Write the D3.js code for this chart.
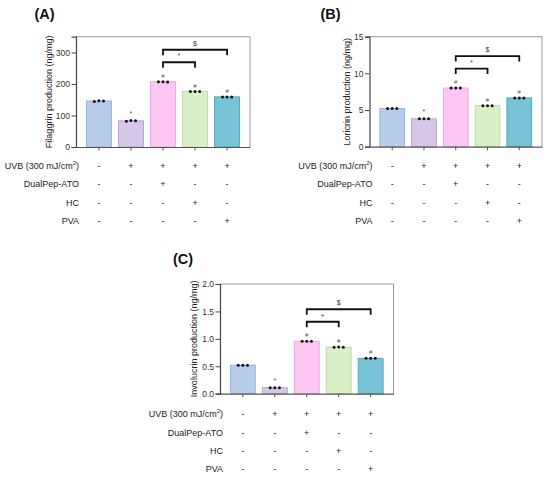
<!DOCTYPE html>
<html>
<head>
<meta charset="utf-8">
<script src="https://cdn.jsdelivr.net/npm/d3@7"></script>
<style>
  html, body { margin: 0; padding: 0; background: #fff; }
  svg { display: block; font-family: "Liberation Sans", Arial, sans-serif; }
</style>
</head>
<body>
<svg id="chart" width="550" height="477"></svg>
<script>
// ---------- data ----------
const groups = ["Control", "UVB", "UVB+DualPep-ATO", "UVB+HC", "UVB+PVA"];
const rowLabels = ["UVB (300 mJ/cm2)", "DualPep-ATO", "HC", "PVA"];
const rowUVB      = ["-", "+", "+", "+", "+"];
const rowDualPep  = ["-", "-", "+", "-", "-"];
const rowHC       = ["-", "-", "-", "+", "-"];
const rowPVA      = ["-", "-", "-", "-", "+"];

const filaggrinMeans = [146, 83, 207, 176, 159];
const filaggrinReps  = [[144, 147, 146], [82, 84, 83], [207, 207, 206], [176, 176, 176], [159, 159, 159]];
const filaggrinTicks = [0, 100, 200, 300];

const loricrinMeans = [5.2, 3.8, 8.0, 5.6, 6.65];
const loricrinReps  = [[5.2, 5.2, 5.2], [3.8, 3.8, 3.8], [8.0, 8.0, 8.0], [5.6, 5.6, 5.6], [6.65, 6.65, 6.65]];
const loricrinTicks = [0, 5, 10, 15];

const involucrinMeans = [0.52, 0.11, 0.956, 0.845, 0.645];
const involucrinReps  = [[0.52, 0.52, 0.52], [0.11, 0.11, 0.11], [0.956, 0.956, 0.956], [0.845, 0.85, 0.845], [0.645, 0.645, 0.645]];
const involucrinTicks = [0, 0.5, 1.0, 1.5, 2.0];

const barMarks = ["", "*", "#", "#", "#"];
// brackets: [fromIndex, toIndex, label]
const bracketsAB = [[2, 3, "*"], [2, 4, "$"]];
const bracketsC  = [[2, 3, "+"], [2, 4, "$"]];

const fills   = ["#b8cde9", "#d6c6e8", "#fcc8f3", "#daefc7", "#79c3d7"];
const strokes = ["#95b3da", "#b9a3d4", "#efa6e2", "#bbdda3", "#50a8c0"];

// ---------- drawing ----------
const svg = d3.select("#chart");
const rows = [rowUVB, rowDualPep, rowHC, rowPVA];

function panel(cfg) {
  const g = svg.append("g");
  const x = d3.scaleBand().domain(groups).range([cfg.left, cfg.right])
    .paddingInner(0.19).paddingOuter(0.31);
  const y = d3.scaleLinear().domain([0, cfg.max]).range([cfg.bottom, cfg.top]);

  // frame (top + right light gray)
  g.append("path")
    .attr("d", `M${cfg.left},${cfg.top}H${cfg.right}V${cfg.bottom}`)
    .attr("fill", "none").attr("stroke", "#9a9a9a").attr("stroke-width", 1);

  // bars
  g.selectAll("rect.bar").data(cfg.means).join("rect")
    .attr("x", (d, i) => x(groups[i]) + 0.5)
    .attr("width", x.bandwidth() - 1)
    .attr("y", d => y(d))
    .attr("height", d => y(0) - y(d))
    .attr("fill", (d, i) => fills[i])
    .attr("stroke", (d, i) => strokes[i])
    .attr("stroke-width", 1);

  // replicate dots
  cfg.reps.forEach((r, i) => {
    const cx = x(groups[i]) + x.bandwidth() / 2;
    g.selectAll(null).data(r).join("circle")
      .attr("cx", (d, j) => cx + (j - 1) * 4.6)
      .attr("cy", d => y(d))
      .attr("r", 1.5)
      .attr("fill", "#111");
  });

  // y axis
  const yAxis = d3.axisLeft(y).tickValues(cfg.ticks).tickFormat(cfg.fmt)
    .tickSize(4.5).tickPadding(1.5);
  const ya = g.append("g").attr("transform", `translate(${cfg.left},0)`).call(yAxis);
  ya.select(".domain").attr("stroke", "#444").attr("stroke-width", 1.2);
  ya.selectAll(".tick line").attr("stroke", "#444").attr("stroke-width", 1);
  ya.selectAll(".tick text").attr("fill", "#333").style("font-size", "8.5px")
    .style("font-family", "'Liberation Sans', Arial, sans-serif");

  // x axis (ticks only, no labels)
  const xAxis = d3.axisBottom(x).tickSize(3.5).tickFormat("").tickSizeOuter(0);
  const xa = g.append("g").attr("transform", `translate(0,${cfg.bottom})`).call(xAxis);
  xa.select(".domain").attr("stroke", "#555").attr("stroke-width", 1.2);
  xa.selectAll(".tick line").attr("stroke", "#555").attr("stroke-width", 1);

  // y title
  g.append("text")
    .attr("transform", `translate(${cfg.left + cfg.titleDx},${(cfg.top + cfg.bottom) / 2}) rotate(-90)`)
    .attr("text-anchor", "middle").attr("dominant-baseline", "central")
    .attr("fill", "#222").style("font-size", "9px")
    .text(cfg.ytitle);

  // bar marks (*, #)
  cfg.means.forEach((m, i) => {
    if (!barMarks[i]) return;
    const top = y(d3.max(cfg.reps[i]));
    g.append("text")
      .attr("x", x(groups[i]) + x.bandwidth() / 2)
      .attr("y", top - (barMarks[i] === "*" ? 5 : 4))
      .attr("text-anchor", "middle").attr("fill", "#555")
      .style("font-size", barMarks[i] === "*" ? "7px" : "6px")
      .text(barMarks[i]);
  });

  // brackets
  const base = y(cfg.means[2]);
  const levels = [19.5, 32];
  cfg.brackets.forEach((b, k) => {
    const x1 = x(groups[b[0]]) + x.bandwidth() / 2;
    const x2 = x(groups[b[1]]) + x.bandwidth() / 2;
    const yy = base - levels[k];
    g.append("path")
      .attr("d", `M${x1},${yy + 5.5}V${yy}H${x2}V${yy + 5.5}`)
      .attr("fill", "none").attr("stroke", "#111").attr("stroke-width", 1.8);
    g.append("text")
      .attr("x", (x1 + x2) / 2).attr("y", yy - 4)
      .attr("text-anchor", "middle").attr("fill", "#333")
      .style("font-size", b[2] === "$" ? "7px" : "6.5px")
      .text(b[2]);
  });

  // treatment rows
  rowLabels.forEach((lab, r) => {
    const ry = cfg.bottom + cfg.rowStart + r * 18.4;
    const t = g.append("text")
      .attr("x", cfg.left + 3).attr("y", ry)
      .attr("text-anchor", "end").attr("dominant-baseline", "central")
      .attr("fill", "#222").style("font-size", "9px");
    if (r === 0) {
      t.append("tspan").text("UVB (300 mJ/cm");
      t.append("tspan").attr("dy", -3).style("font-size", "6px").text("2");
      t.append("tspan").attr("dy", 3).text(")");
    } else {
      t.text(lab);
    }
    g.selectAll(null).data(rows[r]).join("text")
      .attr("x", (d, i) => x(groups[i]) + x.bandwidth() / 2)
      .attr("y", ry)
      .attr("text-anchor", "middle").attr("dominant-baseline", "central")
      .attr("fill", "#222").style("font-size", "9px")
      .text(d => d);
  });

  // panel label
  svg.append("text")
    .attr("x", cfg.labelX).attr("y", cfg.labelY)
    .attr("font-weight", "bold").attr("fill", "#111")
    .style("font-size", "14.5px")
    .text(cfg.label);
}

panel({
  label: "(A)", labelX: 34.5, labelY: 18.5,
  left: 76, right: 250, top: 36.7, bottom: 147,
  max: 350, ticks: filaggrinTicks, fmt: d3.format("d"),
  means: filaggrinMeans, reps: filaggrinReps,
  ytitle: "Filaggrin production (ng/mg)", titleDx: -27.5,
  brackets: bracketsAB, rowStart: 18.7
});
panel({
  label: "(B)", labelX: 320.5, labelY: 18.5,
  left: 369.5, right: 542, top: 36.7, bottom: 146.7,
  max: 15, ticks: loricrinTicks, fmt: d3.format("d"),
  means: loricrinMeans, reps: loricrinReps,
  ytitle: "Loricrin production (ng/mg)", titleDx: -23,
  brackets: bracketsAB, rowStart: 19
});
panel({
  label: "(C)", labelX: 173, labelY: 263.5,
  left: 220, right: 393.5, top: 284, bottom: 393.7,
  max: 2.0, ticks: involucrinTicks, fmt: d3.format(".1f"),
  means: involucrinMeans, reps: involucrinReps,
  ytitle: "Involucrin production (ng/mg)", titleDx: -26.5,
  brackets: bracketsC, rowStart: 20.5
});
</script>
</body>
</html>
